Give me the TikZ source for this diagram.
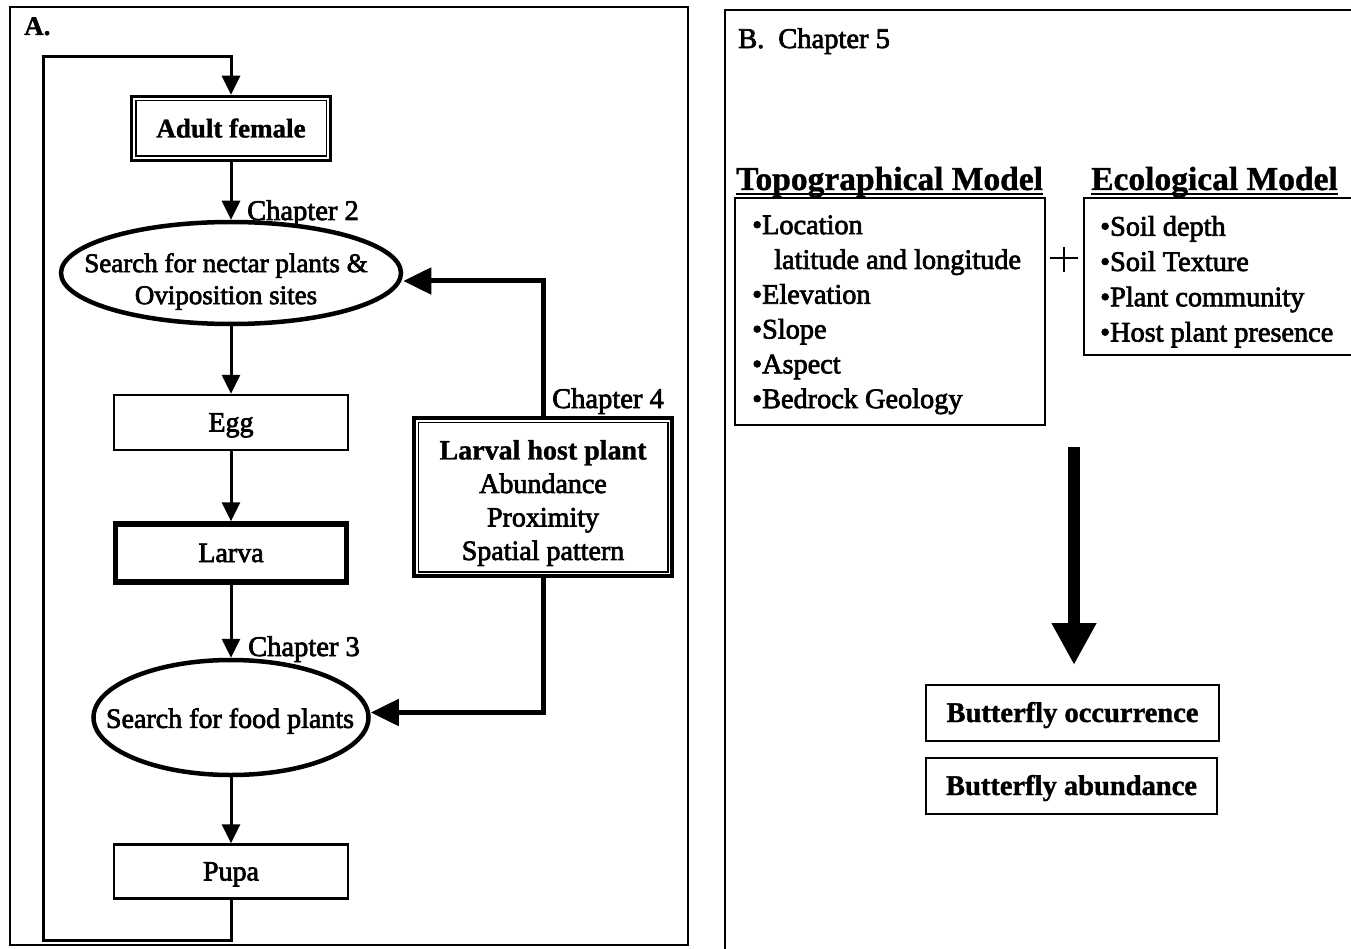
\documentclass[tikz,border=0pt]{standalone}
\usepackage{fontspec}
\setmainfont{Liberation Serif}[UprightFeatures={FakeBold=2.5}, BoldFeatures={FakeBold=1.2}]
\usetikzlibrary{arrows.meta,shapes.geometric,calc}
\begin{document}
\begin{tikzpicture}[x=1pt,y=-1pt,
  frame/.style={line width=2.5pt},
  box/.style={draw, rectangle, line width=2.5pt, inner sep=0pt, text height=18pt, text depth=0pt,
              font=\fontsize{28}{30}\selectfont},
  plainbox/.style={draw, rectangle, line width=2.5pt, inner sep=0pt},
  ellip/.style={draw, ellipse, line width=4.5pt, inner sep=0pt},
  conn/.style={line width=3pt, -{Triangle[length=19pt,width=18pt]}},
  thickconn/.style={line width=5pt, -{Triangle[length=28pt,width=26pt]}},
  bigarrow/.style={line width=12pt, -{Triangle[length=42pt,width=42pt]}},
  title/.style={anchor=base west, inner sep=0pt, font=\fontsize{33.5}{36}\selectfont\bfseries},
  chap/.style={anchor=base west, inner sep=0pt, font=\fontsize{28.5}{30}\selectfont},
  items/.style={anchor=west, inner sep=0pt, align=left}
]
\useasboundingbox (0,0) rectangle (1351,949);

% ---------- Panel A ----------
\draw[frame] (10,7) rectangle (688,945);
\node[anchor=base west, inner sep=0pt, font=\fontsize{27}{30}\selectfont\bfseries] (labA) at (24,35) {A.};

\node[box, line width=3.5pt, minimum width=199pt, minimum height=64pt,
      font=\fontsize{27}{30}\selectfont\bfseries] (adult) at (231,128.5) {Adult female};
\draw[line width=1.5pt] ([shift={(6pt,-6pt)}]adult.north west) rectangle ([shift={(-6pt,6pt)}]adult.south east);

\node[ellip, minimum width=340pt, minimum height=102pt] (ell1) at (231,273) {};
\node[align=center, inner sep=0pt, font=\fontsize{27}{32}\selectfont] (ell1t) at (226,281.5)
  {Search for nectar plants \&\\Oviposition sites};

\node[box, minimum width=234pt, minimum height=55pt] (egg) at (231,422.5) {Egg};
\node[box, line width=5.5pt, minimum width=231pt, minimum height=58pt] (larva) at (231,553) {Larva};

\node[ellip, minimum width=275pt, minimum height=115pt] (ell2) at (231,717.5) {};
\node[inner sep=0pt, font=\fontsize{28}{30}\selectfont] (ell2t) at (230,721) {Search for food plants};

\node[box, minimum width=234pt, minimum height=54pt] (pupa) at (231,871.5) {Pupa};

\node[plainbox, line width=3.5pt, minimum width=258pt, minimum height=158pt] (host) at (543,497) {};
\draw[line width=1.5pt] ([shift={(6pt,-6pt)}]host.north west) rectangle ([shift={(-6pt,6pt)}]host.south east);
\node[align=center, inner sep=0pt, font=\fontsize{28}{33.5}\selectfont] (hostt) at (543,503)
  {{\bfseries Larval host plant}\\Abundance\\Proximity\\Spatial pattern};

\node[chap] (ch2) at (247,220) {Chapter 2};
\node[chap] (ch3) at (248,656) {Chapter 3};
\node[chap] (ch4) at (552,408) {Chapter 4};

\coordinate (loopb) at (43,940);
\coordinate (loopt) at (43,57);
\draw[conn] (pupa.south) -- (pupa.south |- loopb) -- (loopb) -- (loopt) -- (adult.north |- loopt) -- (adult.north);
\draw[conn] (adult.south) -- (ell1.north);
\draw[conn] (ell1.south) -- (egg.north);
\draw[conn] (egg.south) -- (larva.north);
\draw[conn] (larva.south) -- (ell2.north);
\draw[conn] (ell2.south) -- (pupa.north);

\draw[thickconn] (host.north) |- ([yshift=-8pt]ell1.east);
\draw[thickconn] (host.south) |- ([yshift=5pt]ell2.east);

% ---------- Panel B ----------
\draw[frame] (725,949) -- (725,10) -- (1351,10);
\node[chap] (labB) at (738,48) {B.\hspace{14pt}Chapter 5};

\node[title] (topt) at (736,190) {Topographical Model};
\draw[line width=2pt] ([yshift=-4pt]topt.base west) -- ([yshift=-4pt]topt.base east);
\node[title] (ecot) at (1091,190) {Ecological Model};
\draw[line width=2pt] ([yshift=-4pt]ecot.base west) -- ([yshift=-4pt]ecot.base east);

\node[plainbox, minimum width=310pt, minimum height=227pt] (topo) at (890,311.5) {};
\node[items, font=\fontsize{28.3}{34.8}\selectfont] (topot) at (752,314.8)
  {•Location\\\hspace*{22pt}latitude and longitude\\•Elevation\\•Slope\\•Aspect\\•Bedrock Geology};

\node[plainbox, minimum width=320pt, minimum height=157pt] (eco) at (1244,276.5) {};
\node[items, font=\fontsize{28.3}{35.3}\selectfont] (ecott) at (1100,281.8)
  {•Soil depth\\•Soil Texture\\•Plant community\\•Host plant presence};

\draw[line width=2.5pt] (1050,258) -- (1078,258);
\draw[line width=2.5pt] (1064,247) -- (1064,272);

\coordinate (bs) at (1074,447);
\coordinate (be) at (1074,665);
\draw[bigarrow] (bs) -- (be);

\node[box, minimum width=293pt, minimum height=56pt, font=\fontsize{28.5}{30}\selectfont\bfseries] (occ) at (1072.5,713) {Butterfly occurrence};
\node[box, minimum width=291pt, minimum height=56pt, font=\fontsize{28.5}{30}\selectfont\bfseries] (abun) at (1071.5,786) {Butterfly abundance};
\end{tikzpicture}
\end{document}
